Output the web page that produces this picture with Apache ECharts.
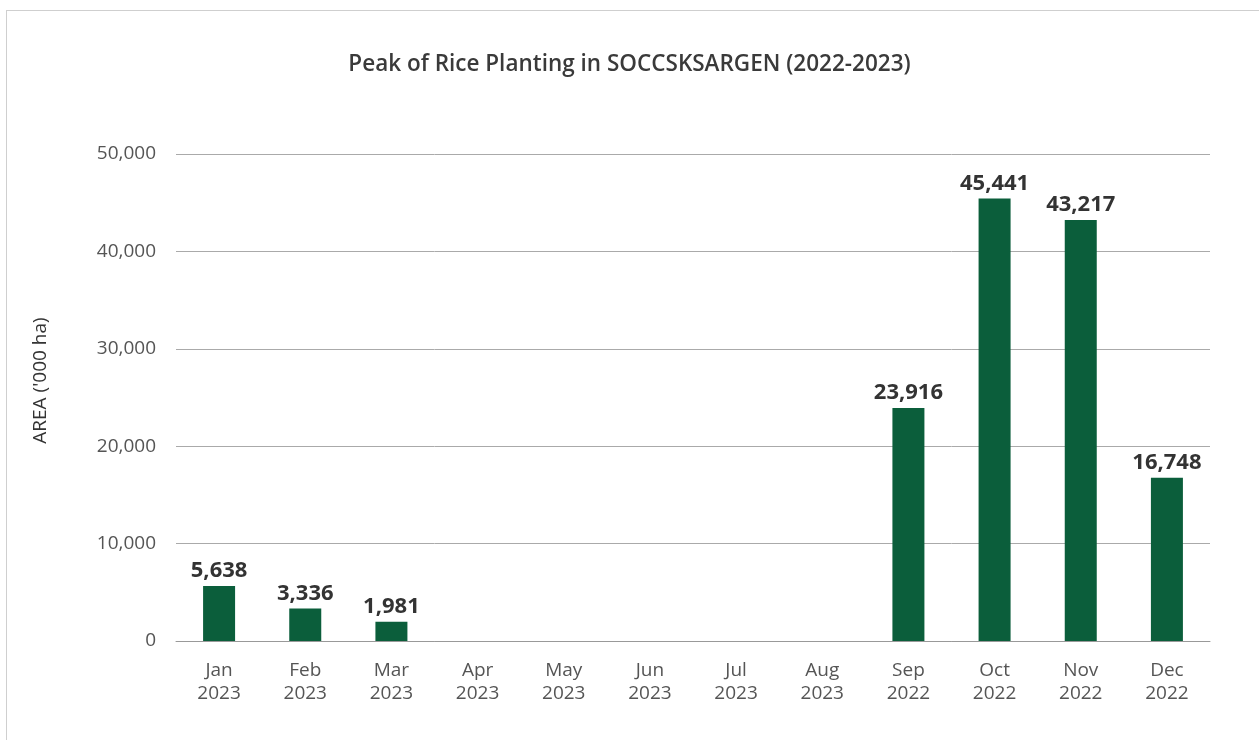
<!DOCTYPE html>
<html>
<head>
<meta charset="utf-8">
<script src="https://cdn.jsdelivr.net/npm/echarts@6/dist/echarts.min.js"></script>
<style>
    body { margin: 0; background: #fff; }
    #frame { position: absolute; left: 6px; top: 10px; width: 1260px; height: 740px; border: 1px solid #cfcfcf; box-sizing: border-box; }
    #chart { position: absolute; left: 0; top: 0; width: 1259px; height: 740px; }
</style>
</head>
<body>
<div id="frame"></div>
<div id="chart"></div>
<script>
// 月份（横轴）
var months = ['Jan\n2023', 'Feb\n2023', 'Mar\n2023', 'Apr\n2023', 'May\n2023', 'Jun\n2023',
    'Jul\n2023', 'Aug\n2023', 'Sep\n2022', 'Oct\n2022', 'Nov\n2022', 'Dec\n2022'];
// 种植面积
var area = [5638, 3336, 1981, null, null, null, null, null, 23916, 45441, 43217, 16748];

var myChart = echarts.init(document.getElementById('chart'));
var option = {
    textStyle: { fontFamily: 'Open Sans' },
    title: {
        text: 'Peak of Rice Planting in SOCCSKSARGEN (2022-2023)',
        left: 'center',
        top: 48,
        textStyle: { fontSize: 22.5, fontWeight: 600, color: '#3a3a3a' }
    },
    grid: { left: 176, right: 49, top: 154, bottom: 99 },
    xAxis: {
        type: 'category',
        data: months,
        axisTick: { show: false },
        axisLine: { lineStyle: { color: '#999' } },
        axisLabel: { color: '#555', fontSize: 19, lineHeight: 23, margin: 18 }
    },
    yAxis: {
        type: 'value',
        min: 0,
        max: 50000,
        interval: 10000,
        name: "AREA ('000 ha)",
        nameLocation: 'middle',
        nameGap: 126,
        nameTextStyle: { color: '#333', fontSize: 19, padding: [0, 0, 0, 34] },
        axisLabel: {
            color: '#555', fontSize: 19, margin: 20,
            formatter: function (v) { return v.toLocaleString('en-US'); }
        },
        splitLine: { lineStyle: { color: '#aaa' } }
    },
    series: [{
        type: 'bar',
        data: area,
        barWidth: 32,
        itemStyle: { color: '#0b5e3b' },
        label: {
            show: true,
            position: 'top',
            distance: 4,
            color: '#333',
            fontSize: 22,
            fontWeight: 'bold',
            formatter: function (p) { return p.value.toLocaleString('en-US'); }
        }
    }]
};
myChart.setOption(option);
</script>
</body>
</html>
